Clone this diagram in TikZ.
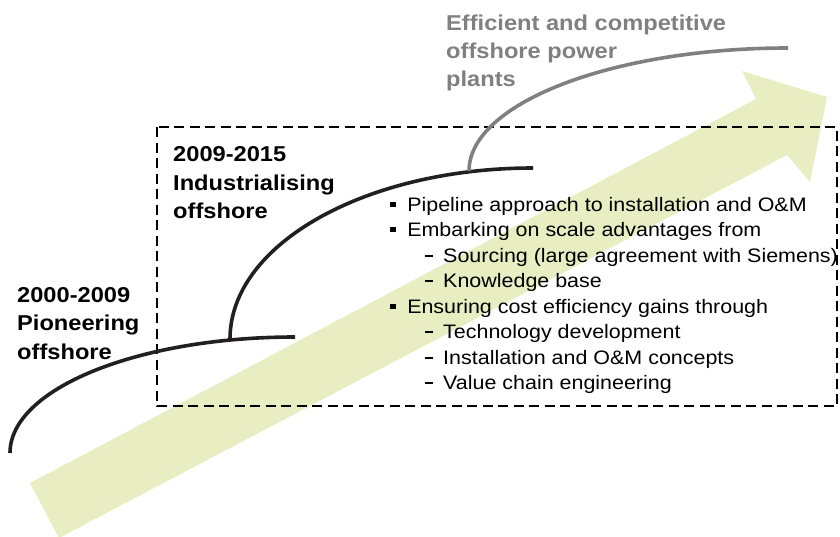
\documentclass[tikz,border=0pt]{standalone}
\usepackage{fontspec}
\setmainfont{Liberation Sans}
\definecolor{arrowfill}{RGB}{232,237,194}
\definecolor{curveblack}{RGB}{35,31,32}
\definecolor{curvegray}{RGB}{128,128,128}
\newcommand{\wide}[1]{\scalebox{1.1}[1]{#1}}
\newcommand{\bul}{\makebox[15.5pt][l]{\rule[3.8pt]{5.5pt}{5.5pt}}}
\newcommand{\subd}{\makebox[16.4pt][l]{\rule[5pt]{7.5pt}{1.6pt}}}
\tikzset{
  boldtxt/.style={anchor=base west,inner sep=0pt,font=\fontsize{21.5}{26}\selectfont\bfseries},
  graytxt/.style={boldtxt,text=curvegray},
  listtxt/.style={anchor=base west,inner sep=0pt,font=\fontsize{19.5}{24}\selectfont},
  phase/.style={draw=curveblack,line width=3.6pt},
  phasegray/.style={draw=curvegray,line width=3.6pt},
  dashbox/.style={draw=black,line width=2.3pt,dash pattern=on 10pt off 5.5pt}
}
\begin{document}
\begin{tikzpicture}[x=1pt,y=-1pt]
\useasboundingbox (0,0) rectangle (840,536);
% big arrow
\coordinate (tu) at (30,483);
\coordinate (nu) at (756,99);
\coordinate (bu) at (742,71);
\coordinate (tip) at (827,97);
\coordinate (bl) at (810,182);
\coordinate (nl) at (787,155);
\coordinate (tl) at (59,538);
\fill[arrowfill] (tu) -- (nu) -- (bu) -- (tip) -- (bl) -- (nl) -- (tl) -- cycle;
% dashed box
\coordinate (boxa) at (157,127);
\coordinate (boxb) at (837,406);
\draw[dashbox] (boxa) rectangle (boxb);
% phase curves
\coordinate (s1) at (10,453);
\coordinate (e1) at (295,337);
\draw[phase] (s1) .. controls (10,388.9) and (137.6,337) .. (e1);
\coordinate (s2) at (230,339);
\coordinate (e2) at (533,168);
\draw[phase] (s2) .. controls (230,244.1) and (365.7,168) .. (e2);
\coordinate (s3) at (469,171);
\coordinate (e3) at (788,48);
\draw[phasegray] (s3) .. controls (469,103.5) and (611.8,48) .. (e3);
% phase labels
\node[boldtxt] (p1) at (17,302) {\wide{2000-2009}};
\node[boldtxt] (p2) at (17,330) {\wide{Pioneering}};
\node[boldtxt] (p3) at (17,359) {\wide{offshore}};
\node[boldtxt] (i1) at (173,161) {\wide{2009-2015}};
\node[boldtxt] (i2) at (173,190) {\wide{Industrialising}};
\node[boldtxt] (i3) at (173,218) {\wide{offshore}};
\node[graytxt] (g1) at (446,30) {\wide{Efficient and competitive}};
\node[graytxt] (g2) at (446,58) {\wide{offshore power}};
\node[graytxt] (g3) at (446,86) {\wide{plants}};
% list
\node[listtxt] (l1) at (390,211) {\wide{\bul Pipeline approach to installation and O\&M}};
\node[listtxt] (l2) at (390,236) {\wide{\bul Embarking on scale advantages from}};
\node[listtxt] (l3) at (425,262) {\wide{\subd Sourcing (large agreement with Siemens)}};
\node[listtxt] (l4) at (425,287) {\wide{\subd Knowledge base}};
\node[listtxt] (l5) at (390,313) {\wide{\bul Ensuring cost efficiency gains through}};
\node[listtxt] (l6) at (425,338) {\wide{\subd Technology development}};
\node[listtxt] (l7) at (425,364) {\wide{\subd Installation and O\&M concepts}};
\node[listtxt] (l8) at (425,389) {\wide{\subd Value chain engineering}};
\end{tikzpicture}
\end{document}
